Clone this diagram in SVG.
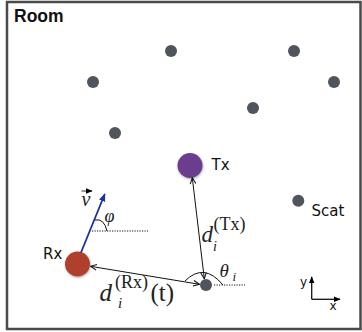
<svg xmlns="http://www.w3.org/2000/svg" width="362" height="332" viewBox="0 0 362 332">
<defs>
<marker id="ah" viewBox="0 0 8 8" refX="7.5" refY="4" markerWidth="7" markerHeight="7" markerUnits="userSpaceOnUse" orient="auto-start-reverse">
<path d="M0.5,0.8 L7.5,4 L0.5,7.2" fill="none" stroke="#111" stroke-width="1.2"/>
</marker>
<marker id="bh" viewBox="0 0 10 10" refX="9" refY="5" markerWidth="8" markerHeight="8" markerUnits="userSpaceOnUse" orient="auto">
<path d="M0,1 L10,5 L0,9 Z" fill="#1a2ea8"/>
</marker>
<marker id="sh" viewBox="0 0 10 10" refX="9" refY="5" markerWidth="7" markerHeight="7" markerUnits="userSpaceOnUse" orient="auto">
<path d="M0,1 L10,5 L0,9 Z" fill="#000"/>
</marker>
<filter id="shadow" x="-40%" y="-40%" width="180%" height="180%">
<feDropShadow dx="0.5" dy="1" stdDeviation="1" flood-color="#000" flood-opacity="0.35"/>
</filter>
</defs>
<style>
.lbl{font-family:"DejaVu Sans","Liberation Sans",sans-serif;font-size:15px;fill:#111}
.ax{font-family:"DejaVu Sans","Liberation Sans",sans-serif;font-size:12px;fill:#111}
.m{font-family:"Liberation Serif","DejaVu Serif",serif;fill:#222}
.mi{font-style:italic}
.dot{fill:#4f545d}
.conn{stroke:#111;stroke-width:1;fill:none}
.dotted{stroke:#111;stroke-width:1.2;stroke-dasharray:1.2 1.3;fill:none}
</style>
<rect x="0" y="0" width="362" height="332" fill="#fff"/>
<rect id="room" x="7" y="2" width="353.5" height="327" fill="none" stroke="#4a4a4a" stroke-width="2.5"/>
<text x="14" y="22" font-family="Liberation Sans, Arial, sans-serif" font-weight="bold" font-size="17.5" fill="#111">Room</text>

<g id="scatterers">
<circle id="s1" class="dot" cx="171" cy="51" r="6"/>
<circle id="s2" class="dot" cx="294" cy="51" r="6"/>
<circle id="s3" class="dot" cx="93" cy="82" r="6"/>
<circle id="s4" class="dot" cx="334" cy="82" r="6"/>
<circle id="s5" class="dot" cx="253" cy="108" r="6"/>
<circle id="s6" class="dot" cx="115" cy="133" r="6"/>
</g>

<g id="scat">
<circle class="dot" cx="298.3" cy="200.7" r="6"/>
<text class="lbl" x="311.5" y="215.5">Scat</text>
</g>

<g id="tx">
<circle cx="190" cy="165.5" r="12.5" fill="#6b3d8e" filter="url(#shadow)"/>
<text class="lbl" x="211.5" y="170">Tx</text>
</g>

<g id="rx">
<circle cx="77.5" cy="264" r="12.5" fill="#b0402f" filter="url(#shadow)"/>
<text class="lbl" x="43" y="259">Rx</text>
</g>

<g id="scat-i">
<circle class="dot" cx="206" cy="285" r="6"/>
</g>

<g id="connectors">
<line class="conn" x1="192.3" y1="177.8" x2="204.3" y2="278.8" marker-start="url(#ah)" marker-end="url(#ah)"/>
<line class="conn" x1="90.5" y1="266.3" x2="199.5" y2="284.3" marker-start="url(#ah)" marker-end="url(#ah)"/>
<line x1="81" y1="252.5" x2="104.8" y2="194" stroke="#1a2ea8" stroke-width="1.8" marker-end="url(#bh)"/>
<line class="dotted" x1="92" y1="231" x2="148" y2="231"/>
<line class="dotted" x1="214" y1="285" x2="245" y2="285"/>
<path class="conn" d="M95,220 Q104,218 107,231"/>
<path class="conn" d="M185,281 Q204,262 223,285"/>
</g>

<g id="labels">
<text class="m mi" x="81.5" y="206" font-size="20">v</text>
<line x1="81.5" y1="191" x2="92" y2="191" stroke="#111" stroke-width="0.9" marker-end="url(#sh)"/>
<text class="m mi" x="104.5" y="222" font-size="18">φ</text>
<text class="m mi" x="219.5" y="276.5" font-size="19">θ</text>
<text class="m mi" x="232.5" y="281" font-size="13">i</text>
<text class="m mi" x="201.5" y="242" font-size="23">d</text>
<text class="m mi" x="213" y="251" font-size="14">i</text>
<text class="m" x="213.5" y="229.5" font-size="18">(Tx)</text>
<text class="m mi" x="99.5" y="301" font-size="25">d</text>
<text class="m mi" x="118" y="308" font-size="15">i</text>
<text class="m" x="115" y="287.5" font-size="18">(Rx)</text>
<text class="m" x="150.5" y="301" font-size="25">(t)</text>
</g>

<g id="axes">
<line x1="311.7" y1="299.3" x2="311.7" y2="277" stroke="#111" stroke-width="1.3" marker-end="url(#sh)"/>
<line x1="311.7" y1="299.3" x2="340" y2="299.3" stroke="#111" stroke-width="1.3" marker-end="url(#sh)"/>
<text class="ax" x="300" y="286">y</text>
<text class="ax" x="329.5" y="309.5">x</text>
</g>
</svg>
